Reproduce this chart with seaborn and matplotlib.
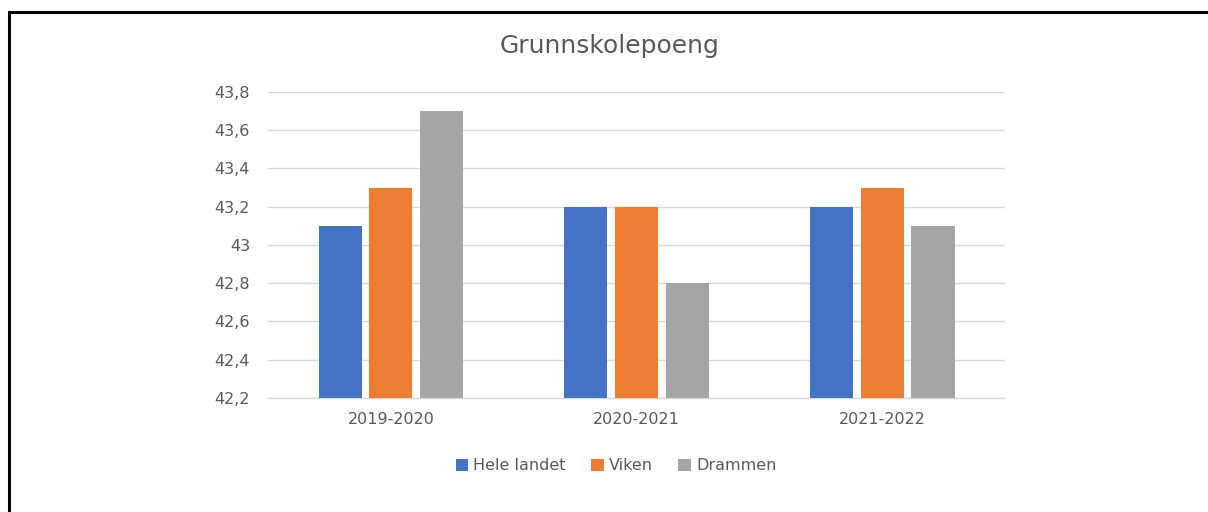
import pandas as pd
import matplotlib
matplotlib.use('Agg')
import matplotlib.pyplot as plt
import seaborn as sns
from matplotlib.lines import Line2D
from matplotlib.ticker import FuncFormatter

seasons = ['2019-2020', '2020-2021', '2021-2022']
regions = ['Hele landet', 'Viken', 'Drammen']
hele_landet = [43.1, 43.2, 43.2]
viken = [43.3, 43.2, 43.3]
drammen = [43.7, 42.8, 43.1]
yticks = [42.2, 42.4, 42.6, 42.8, 43.0, 43.2, 43.4, 43.6, 43.8]

colors = ['#4472C4', '#ED7D31', '#A5A5A5']

# long format table for seaborn
rows = []
for name, vals in zip(regions, [hele_landet, viken, drammen]):
    for s, v in zip(seasons, vals):
        rows.append({'season': s, 'region': name, 'poeng': v})
df = pd.DataFrame(rows)

sns.set_style('white')
plt.rcParams['font.family'] = ['DejaVu Sans']

fig = plt.figure(figsize=(12.08, 5.12), dpi=100)
ax = fig.add_axes([0.2219, 0.2227, 0.6101, 0.5976])

sns.barplot(data=df, x='season', y='poeng', hue='region', order=seasons,
            hue_order=regions, palette=colors, width=0.62, gap=0.15,
            saturation=1, linewidth=0, ax=ax, legend=True)

ax.set_ylim(42.2, 43.8)
ax.set_xlim(-0.5, 2.5)
ax.set_yticks(yticks)
ax.yaxis.set_major_formatter(FuncFormatter(lambda v, p: f"{round(v, 1):g}".replace('.', ',')))
ax.grid(axis='y', color='#d9d9d9', linewidth=1)
ax.set_axisbelow(True)
# baseline gridline at the lower limit (would be clipped otherwise)
ax.axhline(42.2, color='#d9d9d9', linewidth=1, clip_on=False, zorder=0.5)
for sp in ax.spines.values():
    sp.set_visible(False)
ax.tick_params(axis='both', length=0, colors='#595959', labelsize=11.5)
ax.tick_params(axis='y', pad=13)
ax.tick_params(axis='x', pad=10)
ax.set_xlabel('')
ax.set_ylabel('')

fig.text(0.505, 0.91, 'Grunnskolepoeng', ha='center', va='center',
         fontsize=18, color='#595959')

leg = ax.legend(loc='upper center', bbox_to_anchor=(0.472, -0.15), ncol=3,
                frameon=False, fontsize=11.5, handlelength=0.8, handleheight=0.8,
                handletextpad=0.3, columnspacing=1.6)
for t in leg.get_texts():
    t.set_color('#595959')

# frame lines at top and left of the page
fig.add_artist(Line2D([0.0075, 1.0], [0.977, 0.977], color='black', linewidth=2.2,
                      transform=fig.transFigure))
fig.add_artist(Line2D([0.0075, 0.0075], [0.0, 0.977], color='black', linewidth=2.2,
                      transform=fig.transFigure))

fig.savefig('out.png', dpi=100, facecolor='white')
